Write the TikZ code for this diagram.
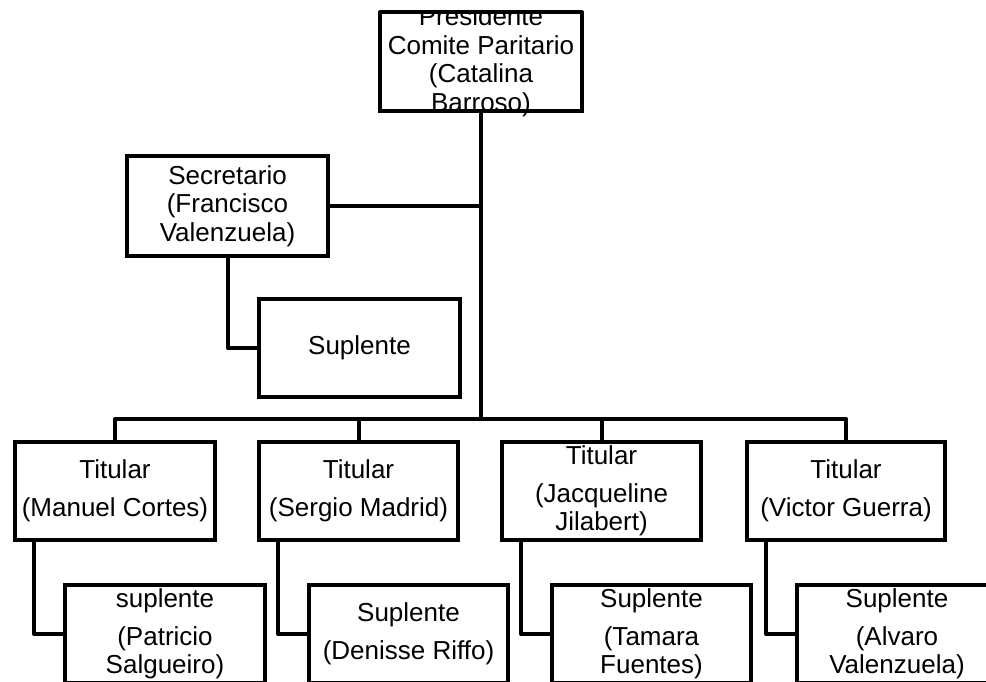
\documentclass[tikz,border=0pt]{standalone}
\usepackage{fontspec}
\setmainfont{Liberation Sans}
\usetikzlibrary{positioning,calc}

\begin{document}
\begin{tikzpicture}[x=1pt,y=-1pt,
    box/.style={draw, line width=4pt, fill=white, inner sep=0pt, outer sep=0pt,
        minimum width=200pt, minimum height=98pt, align=center,
        font=\fontsize{26}{28.5}\selectfont},
    wire/.style={line width=4pt, line join=round}]
    \useasboundingbox (0,0) rectangle (986,682);
    \clip (0,0) rectangle (986,682);

    % Connectors
    \coordinate (bus) at (481,419);
    \draw[wire] (481,111) -- (bus);
    \draw[wire] (115,442) |- (bus) -| (846,442);
    \draw[wire] (358.5,442) -- (358.5,419);
    \draw[wire] (601.5,442) -- (601.5,419);

    % President (text cut by the top border)
    \begin{scope}
        \clip (0,14) rectangle (986,682);
        \node[box, minimum width=202pt, minimum height=99pt, align=none] (pres) at (481,62)
            {\parbox[c][80pt][c]{198pt}{\centering Presidente\\Comite Paritario\\(Catalina\\Barroso)}};
    \end{scope}
    \draw[wire] (pres.north west) rectangle (pres.south east);

    % Secretary
    \node[box, minimum width=201pt, minimum height=100pt] (sec) at (227.5,206)
        {Secretario\\(Francisco\\Valenzuela)};
    \node[box, minimum width=201pt] (sup) at (359.5,347.5) {Suplente};
    \draw[wire] (sec.east) -- (sec.east -| bus);
    \draw[wire] (sec.south) |- (sup.west);

    % Titulares
    \node[box] (tit1) at (115,491) {Titular\\[9.5pt](Manuel Cortes)};
    \node[box, minimum width=199pt] (tit2) at (358.5,491) {Titular\\[9.5pt](Sergio Madrid)};
    \node[box, minimum width=199pt] (tit3) at (601.5,491) {Titular\\[9.5pt](Jacqueline\\Jilabert)};
    \node[box, minimum width=198pt] (tit4) at (846,491) {Titular\\[9.5pt](Victor Guerra)};

    % Suplentes
    \node[box] (sup1) at (165,634) {suplente\\[9.5pt](Patricio\\Salgueiro)};
    \node[box, minimum width=199pt] (sup2) at (408.5,634) {Suplente\\[9.5pt](Denisse Riffo)};
    \node[box, minimum width=199pt] (sup3) at (651.5,634) {Suplente\\[9.5pt](Tamara\\Fuentes)};
    \node[box] (sup4) at (897,634) {Suplente\\[9.5pt](Alvaro\\Valenzuela)};

    \draw[wire] ([xshift=19pt]tit1.south west) |- (sup1.west);
    \draw[wire] ([xshift=19pt]tit2.south west) |- (sup2.west);
    \draw[wire] ([xshift=19pt]tit3.south west) |- (sup3.west);
    \draw[wire] ([xshift=19pt]tit4.south west) |- (sup4.west);
\end{tikzpicture}
\end{document}
